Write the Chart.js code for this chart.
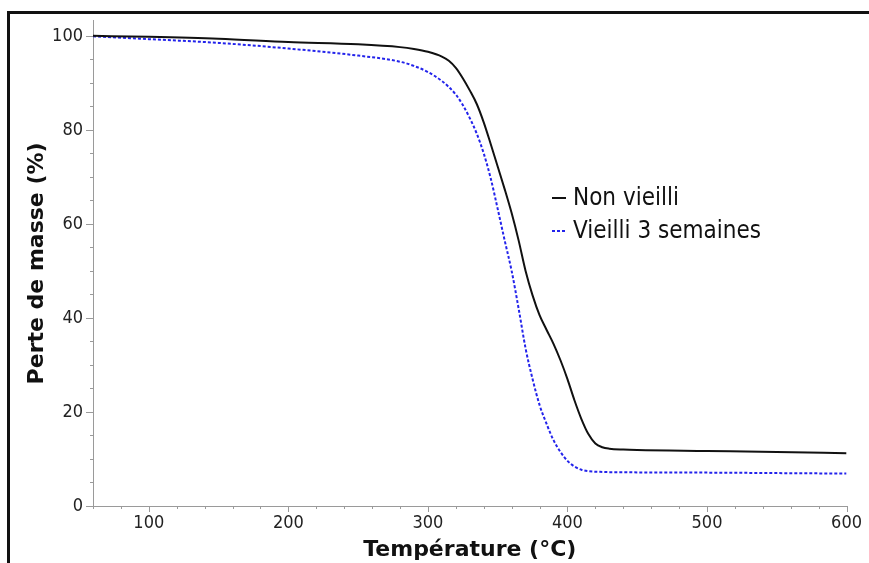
<!DOCTYPE html>
<html>
<head>
<meta charset="utf-8">
<script src="https://cdn.jsdelivr.net/npm/chart.js@4"></script>
<style>
    body { margin: 0; background: #fff; }
    #wrap { position: relative; width: 869px; height: 563px; }
    #frame { position: absolute; left: 7px; top: 11px; right: 0; bottom: 0;
             border-top: 3px solid #111; border-left: 3px solid #111; pointer-events: none; }
</style>
</head>
<body>
<div id="wrap">
    <canvas id="tga-chart" width="869" height="563"></canvas>
    <div id="frame"></div>
</div>
<script>
// Température (°C)
const temperatures = [60, 100, 150, 200, 250, 280, 290, 300, 310, 315, 320, 325, 330, 335, 340, 345, 350, 355, 360, 365,
    370, 375, 380, 385, 390, 395, 400, 405, 410, 415, 420, 425, 430, 440, 450, 500, 550, 600];

// Perte de masse (%)
const nonVieilli = [100, 99.8, 99.4, 98.7, 98.2, 97.6, 97.2, 96.6, 95.6, 94.7, 93.2, 91.0, 88.4, 85.5, 81.6, 77.0, 72.2, 67.4,
    62.3, 56.5, 50, 44.8, 40.6, 37.5, 34.5, 31, 27, 22.5, 18.5, 15.3, 13.3, 12.5, 12.2, 12.0, 11.9, 11.7, 11.5, 11.2];
const vieilli3Semaines = [99.9, 99.3, 98.5, 97.3, 95.8, 94.5, 93.6, 92.3, 90.4, 89.1, 87.5, 85.3, 82.5, 79.2, 75, 69.7, 63.2,
    56.5, 50, 42, 33.5, 27, 21.5, 17.5, 14, 11.5, 9.6, 8.4, 7.7, 7.4, 7.3, 7.25, 7.2, 7.2, 7.15, 7.1, 7.0, 6.9];

const seriesLabels = ['Non vieilli', 'Vieilli 3 semaines'];
const xTicks = [100, 200, 300, 400, 500, 600];
const yTicks = [0, 20, 40, 60, 80, 100];

const FONT = "'DejaVu Sans Condensed', 'DejaVu Sans', 'Liberation Sans', sans-serif";
const TITLE_FONT = "'DejaVu Sans', 'Liberation Sans', sans-serif";
const AXIS_GREY = '#9a9a9a';
const BLUE = 'rgb(35, 35, 235)';

const toPoints = vals => temperatures.map((t, i) => ({ x: t, y: vals[i] }));

// minor/major tick marks drawn outside the axes
const tickMarks = {
    id: 'tickMarks',
    afterDraw(chart) {
        const { ctx, chartArea, scales } = chart;
        ctx.save();
        ctx.strokeStyle = AXIS_GREY;
        ctx.lineWidth = 1;
        ctx.beginPath();
        for (let v = 0; v <= 100; v += 5) {
            const y = Math.round(scales.y.getPixelForValue(v)) + 0.5;
            const len = v % 20 === 0 ? 7 : 3;
            ctx.moveTo(chartArea.left - len, y);
            ctx.lineTo(chartArea.left, y);
        }
        for (let v = 60; v <= 600; v += 20) {
            const x = Math.round(scales.x.getPixelForValue(v)) + 0.5;
            const len = v % 100 === 0 ? 6 : 3;
            ctx.moveTo(x, chartArea.bottom);
            ctx.lineTo(x, chartArea.bottom + len);
        }
        ctx.stroke();
        ctx.restore();
    }
};

// legend inside the plot, short line samples on the left
const innerLegend = {
    id: 'innerLegend',
    afterDraw(chart) {
        const { ctx } = chart;
        const x0 = 552, rows = [199, 232];
        ctx.save();
        ctx.font = '24px ' + FONT;
        ctx.textBaseline = 'middle';
        ctx.fillStyle = '#111';
        chart.data.datasets.forEach((ds, i) => {
            const y = rows[i];
            ctx.strokeStyle = ds.borderColor;
            ctx.lineWidth = 2;
            ctx.setLineDash(ds.borderDash || []);
            ctx.beginPath();
            ctx.moveTo(x0, y - 1);
            ctx.lineTo(x0 + 14, y - 1);
            ctx.stroke();
            ctx.setLineDash([]);
            ctx.fillText(ds.label, x0 + 21, y);
        });
        ctx.restore();
    }
};

new Chart(document.getElementById('tga-chart'), {
    type: 'line',
    data: {
        datasets: [{
            label: seriesLabels[0],
            data: toPoints(nonVieilli),
            borderColor: '#111',
            borderWidth: 2,
            pointRadius: 0,
            cubicInterpolationMode: 'monotone'
        }, {
            label: seriesLabels[1],
            data: toPoints(vieilli3Semaines),
            borderColor: BLUE,
            borderWidth: 2,
            borderDash: [3, 2],
            pointRadius: 0,
            cubicInterpolationMode: 'monotone'
        }]
    },
    options: {
        responsive: false,
        animation: false,
        layout: { padding: { top: 13, right: 19, left: 0, bottom: 0 } },
        plugins: { legend: { display: false }, tooltip: { enabled: false } },
        scales: {
            x: {
                type: 'linear',
                min: 60,
                max: 600,
                afterFit: s => { s.height = 57; },
                afterBuildTicks: s => { s.ticks = xTicks.map(v => ({ value: v })); },
                grid: { display: false, drawTicks: false },
                border: { display: true, color: AXIS_GREY, width: 1 },
                ticks: { color: '#222', padding: 7, font: { family: FONT, size: 18 }, maxRotation: 0 },
                title: {
                    display: true,
                    text: 'Température (°C)',
                    color: '#111',
                    padding: { top: 0, bottom: 0 },
                    font: { family: TITLE_FONT, size: 22, weight: 'bold' }
                }
            },
            y: {
                min: 0,
                max: 103.2,
                afterFit: s => { s.width = 93; },
                afterBuildTicks: s => { s.ticks = yTicks.map(v => ({ value: v })); },
                grid: { display: false, drawTicks: false },
                border: { display: true, color: AXIS_GREY, width: 1 },
                ticks: { color: '#222', padding: 10, font: { family: FONT, size: 18 } },
                title: {
                    display: true,
                    text: 'Perte de masse (%)',
                    color: '#111',
                    padding: { top: 24, bottom: 0 },
                    font: { family: TITLE_FONT, size: 22, weight: 'bold' }
                }
            }
        }
    },
    plugins: [tickMarks, innerLegend]
});
</script>
</body>
</html>
